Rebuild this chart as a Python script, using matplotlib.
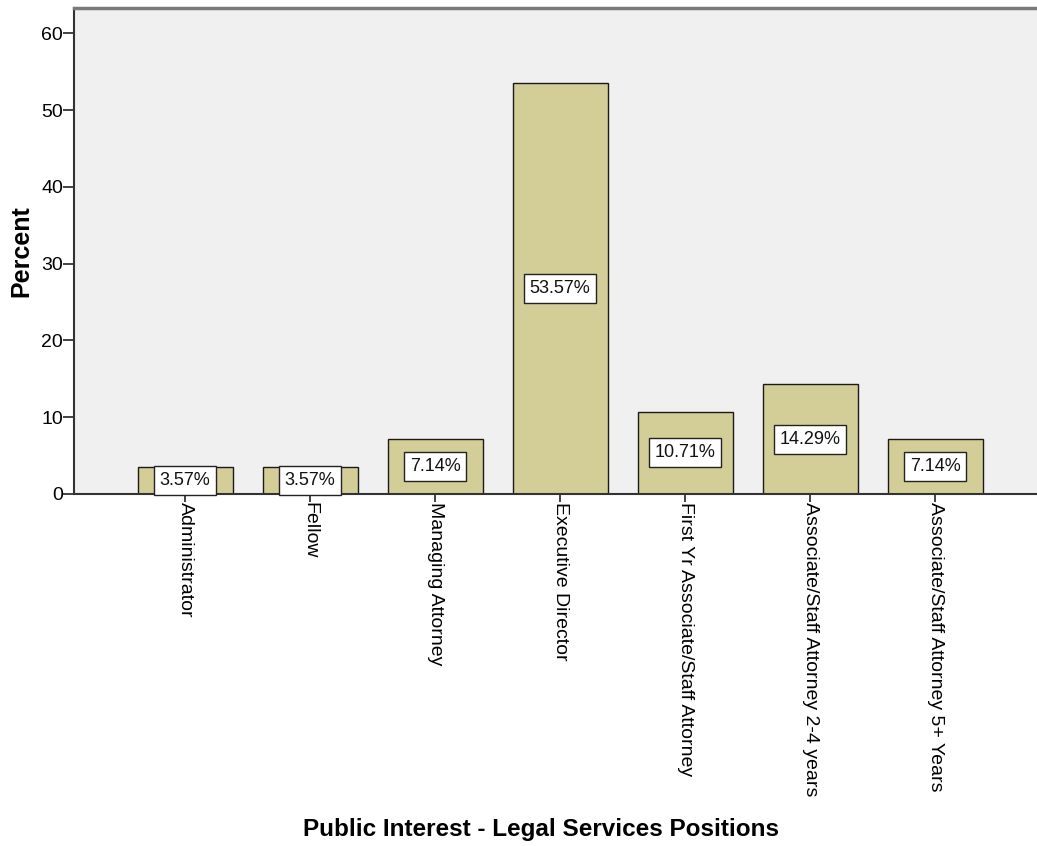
import matplotlib
matplotlib.use("Agg")
import matplotlib.pyplot as plt
import numpy as np

categories = [
    "Administrator",
    "Fellow",
    "Managing Attorney",
    "Executive Director",
    "First Yr Associate/Staff Attorney",
    "Associate/Staff Attorney 2-4 years",
    "Associate/Staff Attorney 5+ Years",
]
percents = [3.57, 3.57, 7.14, 53.57, 10.71, 14.29, 7.14]
yticks = [0, 10, 20, 30, 40, 50, 60]

plt.rcParams["font.family"] = ["Liberation Sans", "DejaVu Sans"]

W, H = 1037, 846
fig = plt.figure(figsize=(W / 100, H / 100), dpi=100)
fig.patch.set_facecolor("white")

# plot area in pixel coordinates (extends slightly past the right edge)
left_px, top_px, bottom_px = 74, 8, 494
width_px = 972
ax = fig.add_axes([left_px / W, 1 - bottom_px / H, width_px / W, (bottom_px - top_px) / H])
ax.set_facecolor("#F0F0F0")

x = np.arange(len(categories))
ax.bar(x, percents, width=0.76, color="#D3CE97", edgecolor="#1a1a1a", linewidth=1.0, zorder=2)

for xi, v in zip(x, percents):
    ax.text(xi, v / 2, f"{v:.2f}%", ha="center", va="center", fontsize=13, color="#111111",
            zorder=3,
            bbox=dict(boxstyle="square,pad=0.33", facecolor="white", edgecolor="#222222", linewidth=1.0))

ax.set_xlim(-0.888, 6.888)
ax.set_ylim(0, 63.3)
ax.set_yticks(yticks)
ax.set_xticks(x)
ax.set_xticklabels(categories, rotation=-90, fontsize=14, va="top", ha="center")
ax.tick_params(axis="y", direction="out", length=8, width=1.2, color="#222222", labelsize=14, pad=0)
ax.tick_params(axis="x", direction="out", length=6, width=1.2, color="#222222", pad=0)

for side in ("left", "bottom"):
    ax.spines[side].set_color("#333333")
    ax.spines[side].set_linewidth(1.5)
ax.spines["top"].set_color("#7a7a7a")
ax.spines["top"].set_linewidth(2.5)
ax.spines["right"].set_visible(False)

fig.text(21 / W, 1 - 251 / H, "Percent", rotation=90, ha="center", va="center",
         fontsize=18, fontweight="bold")
fig.text(541 / W, 1 - 829 / H, "Public Interest - Legal Services Positions", ha="center", va="center",
         fontsize=17.5, fontweight="bold")

fig.savefig("out.png", dpi=100)
